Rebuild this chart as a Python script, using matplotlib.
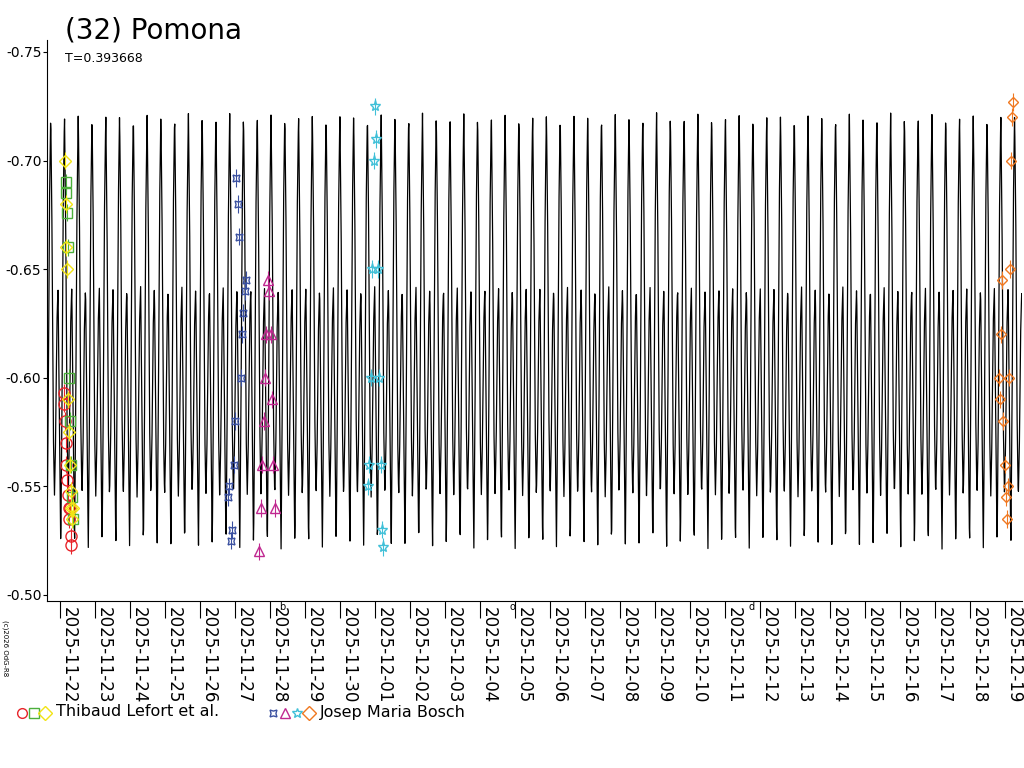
import numpy as np
import matplotlib
matplotlib.use("Agg")
import matplotlib.pyplot as plt
from datetime import datetime, timedelta

PERIOD = 0.393668
T0 = datetime(2025, 11, 21, 15)
T_END = datetime(2025, 12, 19, 12)

# one rotation of the model light curve (phase 0..1)
CYCLE_PHASE = [0.0, 0.08, 0.18, 0.27, 0.36, 0.46, 0.54, 0.62, 0.72, 0.80, 0.90, 1.0]
CYCLE_MAG = [-0.521, -0.58, -0.68, -0.722, -0.67, -0.575, -0.545, -0.57, -0.625, -0.642, -0.58, -0.521]

# observations: (day offset from 2025-11-22 00:00, relative mag)
LEFORT_RED_T = [0.10, 0.12, 0.14, 0.16, 0.18, 0.20, 0.22, 0.24, 0.26, 0.28, 0.30, 0.32]
LEFORT_RED_M = [-0.593, -0.588, -0.58, -0.57, -0.56, -0.553, -0.546, -0.54, -0.535, -0.54, -0.527, -0.523]
LEFORT_GREEN_T = [0.16, 0.18, 0.20, 0.22, 0.24, 0.27, 0.30, 0.33, 0.36]
LEFORT_GREEN_M = [-0.69, -0.685, -0.676, -0.66, -0.6, -0.58, -0.56, -0.545, -0.535]
LEFORT_YELLOW_T = [0.14, 0.16, 0.18, 0.20, 0.22, 0.26, 0.28, 0.30, 0.32, 0.34, 0.36]
LEFORT_YELLOW_M = [-0.70, -0.68, -0.66, -0.65, -0.59, -0.575, -0.56, -0.548, -0.54, -0.535, -0.54]

BOSCH_BLUE_T = [4.80, 4.84, 4.88, 4.92, 4.96, 5.00, 5.04, 5.08, 5.12, 5.16, 5.20, 5.24, 5.28, 5.32]
BOSCH_BLUE_M = [-0.545, -0.55, -0.525, -0.53, -0.56, -0.58, -0.692, -0.68, -0.665, -0.60, -0.62, -0.63, -0.64, -0.645]
BOSCH_MAG_T = [5.70, 5.74, 5.78, 5.82, 5.86, 5.90, 5.94, 5.98, 6.02, 6.06, 6.10, 6.14]
BOSCH_MAG_M = [-0.52, -0.54, -0.56, -0.58, -0.60, -0.62, -0.645, -0.64, -0.62, -0.59, -0.56, -0.54]
BOSCH_CYAN_T = [8.80, 8.84, 8.88, 8.92, 8.96, 9.00, 9.04, 9.08, 9.12, 9.16, 9.20, 9.24]
BOSCH_CYAN_M = [-0.55, -0.56, -0.60, -0.65, -0.70, -0.725, -0.71, -0.65, -0.60, -0.56, -0.53, -0.522]
BOSCH_ORANGE_T = [26.85, 26.88, 26.91, 26.94, 26.97, 27.00, 27.03, 27.06, 27.09, 27.12, 27.15, 27.18, 27.21, 27.24]
BOSCH_ORANGE_M = [-0.60, -0.59, -0.62, -0.645, -0.58, -0.56, -0.545, -0.535, -0.55, -0.60, -0.65, -0.70, -0.72, -0.727]

DATES = [datetime(2025, 11, 22) + timedelta(days=i) for i in range(28)]

fig = plt.figure(figsize=(10.24, 7.68), dpi=100)
ax = fig.add_axes([47 / 1024, 1 - 601 / 768, 975 / 1024, 561 / 768])

t_days = np.linspace(0, (T_END - T0).total_seconds() / 86400, 3000)
phase = (t_days / PERIOD) % 1.0
mag = np.interp(phase, CYCLE_PHASE, CYCLE_MAG)
tt = [T0 + timedelta(days=float(d)) for d in t_days]
ax.plot(tt, mag, color="black", lw=0.9)

base = datetime(2025, 11, 22)
def dts(offs):
    return [base + timedelta(days=o) for o in offs]

groups = [
    (LEFORT_RED_T, LEFORT_RED_M, "o", "#e8242a", 8),
    (LEFORT_GREEN_T, LEFORT_GREEN_M, "s", "#4caf3c", 7),
    (LEFORT_YELLOW_T, LEFORT_YELLOW_M, "D", "#f2e415", 6),
    (BOSCH_BLUE_T, BOSCH_BLUE_M, (4, 1, 45), "#3a50a0", 7),
    (BOSCH_MAG_T, BOSCH_MAG_M, "^", "#c02890", 7),
    (BOSCH_CYAN_T, BOSCH_CYAN_M, "*", "#40c0d8", 8),
    (BOSCH_ORANGE_T, BOSCH_ORANGE_M, "D", "#f07820", 5),
]
for t, m, mk, c, s in groups:
    ax.errorbar(dts(t), m, yerr=0.004, fmt="none", ecolor=c, lw=0.8)
    ax.plot(dts(t), m, ls="none", marker=mk, mfc="none", mec=c, ms=s, mew=1)

ax.set_xlim(datetime(2025, 11, 21, 15), datetime(2025, 12, 19, 12))
ax.set_ylim(-0.4972, -0.7555)
ax.set_yticks([-0.75, -0.70, -0.65, -0.60, -0.55, -0.50])
ax.set_yticklabels(["-0.75", "-0.70", "-0.65", "-0.60", "-0.55", "-0.50"])
ax.set_xticks(DATES)
ax.set_xticklabels([d.strftime("%Y-%m-%d") for d in DATES], rotation=-90,
                   ha="left", va="top", fontsize=12)
ax.tick_params(axis="x", length=12, direction="out", pad=-8)
ax.tick_params(axis="y", labelsize=10, length=3, pad=1)
for sp in ("top", "right"):
    ax.spines[sp].set_visible(False)

fig.text(65 / 1024, 1 - 30 / 768, "(32) Pomona", fontsize=20, va="center")
fig.text(65 / 1024, 1 - 58 / 768, "T=0.393668", fontsize=9, va="center")
fig.text(5 / 1024, 1 - 648 / 768, "(c)2026 OdG-R8", fontsize=5, rotation=-90,
         va="center", ha="center")
for x, s in [(282, "b"), (512, "o"), (752, "d")]:
    fig.text(x / 1024, 1 - 607 / 768, s, fontsize=7, ha="center", va="center")

# legend row
fig.text(56 / 1024, 1 - 712 / 768, "Thibaud Lefort et al.", fontsize=11.5, va="center")
fig.text(320 / 1024, 1 - 712 / 768, "Josep Maria Bosch", fontsize=11.5, va="center")
lx = [22, 34, 45, 273, 285, 297, 309]
for (t, m, mk, c, s), x in zip(groups, lx):
    fig.lines.append(plt.Line2D([x / 1024], [1 - 713 / 768], transform=fig.transFigure,
                                marker=mk, mfc="none", mec=c, ms=7, ls="none"))

fig.savefig("out.png", dpi=100)
